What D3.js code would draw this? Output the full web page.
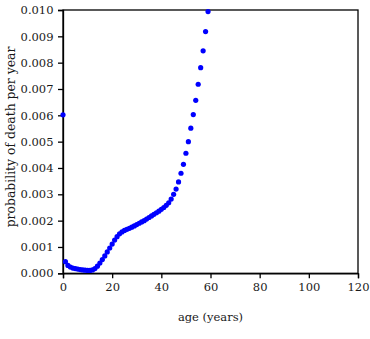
<!DOCTYPE html>
<html>
<head>
<meta charset="utf-8">
<script src="https://cdn.jsdelivr.net/npm/d3@7"></script>
<style>
  html, body { margin: 0; padding: 0; background: #fff; }
  svg { display: block; }
  text { font-family: "DejaVu Serif", serif; fill: #1a1a1a; }
</style>
</head>
<body>
<svg id="chart" width="370" height="339"></svg>
<script>
// ages (years)
const ages = d3.range(0, 60);
// probability of death per year
const probability = [
  0.00602, 0.00044, 0.00030, 0.00024, 0.00020, 0.00018, 0.00016, 0.00014, 0.00013, 0.00012,
  0.00011, 0.00011, 0.00013, 0.00018, 0.00027, 0.00039, 0.00052, 0.00066, 0.00081, 0.00096,
  0.00111, 0.00126, 0.00139, 0.00150, 0.00157, 0.00163, 0.00167, 0.00171, 0.00175, 0.00180,
  0.00185, 0.00190, 0.00195, 0.00200, 0.00206, 0.00212, 0.00218, 0.00224, 0.00230, 0.00236,
  0.00243, 0.00250, 0.00258, 0.00268, 0.00282, 0.00300, 0.00320, 0.00347, 0.00380, 0.00414,
  0.00456, 0.00500, 0.00551, 0.00603, 0.00657, 0.00718, 0.00781, 0.00845, 0.00918, 0.00994
];
const xTicks = [0, 20, 40, 60, 80, 100, 120];
const yTicks = [0, 0.001, 0.002, 0.003, 0.004, 0.005, 0.006, 0.007, 0.008, 0.009, 0.010];
const xTitle = "age (years)";
const yTitle = "probability of death per year";

const W = 370, H = 339;
const m = { left: 63, right: 12, top: 10, bottom: 65.7 };
const svg = d3.select("#chart");

const x = d3.scaleLinear().domain([0, 120]).range([m.left, W - m.right]);
const y = d3.scaleLinear().domain([0, 0.010]).range([H - m.bottom, m.top]);

// frame
svg.append("rect")
  .attr("x", x(0)).attr("y", y(0.010))
  .attr("width", x(120) - x(0)).attr("height", y(0) - y(0.010))
  .attr("fill", "none").attr("stroke", "#000").attr("stroke-width", 1.3);

const fs = 11.5;
const xAxis = svg.append("g")
  .attr("transform", `translate(0,${y(0)})`)
  .call(d3.axisBottom(x).tickValues(xTicks).tickSize(5).tickPadding(4.5).tickFormat(d3.format("d")));
const yAxis = svg.append("g")
  .attr("transform", `translate(${x(0)},0)`)
  .call(d3.axisLeft(y).tickValues(yTicks).tickSize(5).tickPadding(4.5).tickFormat(d3.format(".3f")));

[xAxis, yAxis].forEach(g => {
  g.attr("font-family", null).attr("font-size", null);
  g.select(".domain").attr("stroke", "#000").attr("stroke-width", 1.3);
  g.selectAll(".tick line").attr("stroke", "#000").attr("stroke-width", 1.3);
  g.selectAll(".tick text").attr("font-size", fs).attr("fill", "#1a1a1a");
});

// points
svg.append("g").selectAll("circle")
  .data(ages.map((a, i) => ({ a, p: probability[i] })))
  .join("circle")
  .attr("cx", d => x(d.a))
  .attr("cy", d => y(d.p))
  .attr("r", 2.6)
  .attr("fill", "#0000ff");

// titles
svg.append("text")
  .attr("x", (x(0) + x(120)) / 2).attr("y", 321)
  .attr("text-anchor", "middle").attr("font-size", fs)
  .text(xTitle);
svg.append("text")
  .attr("transform", `translate(15,137) rotate(-90)`)
  .attr("text-anchor", "middle").attr("font-size", 12.4)
  .text(yTitle);
</script>
</body>
</html>
